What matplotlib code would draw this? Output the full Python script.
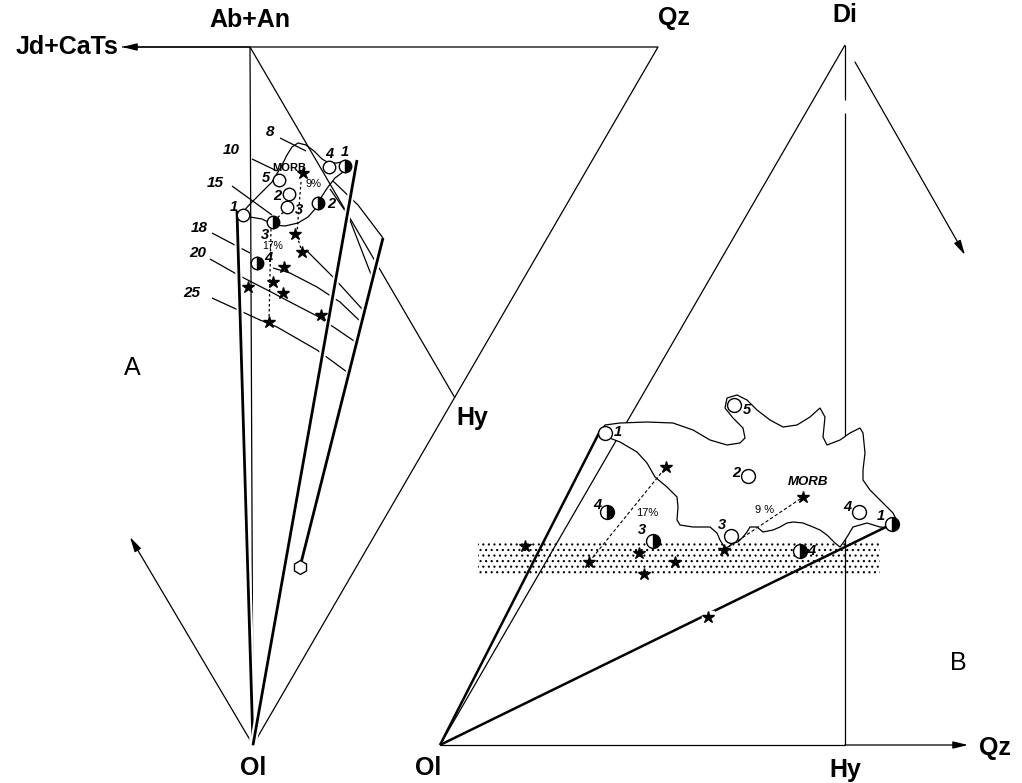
import matplotlib.pyplot as plt
import matplotlib.patheffects as pe
from matplotlib.patches import Polygon, Rectangle

plt.rcParams['font.family'] = ['Liberation Sans', 'DejaVu Sans']
plt.rcParams['hatch.linewidth'] = 0.8

# ---------------- panel A (pixel coordinates of the projection) ----------------
ab_an = (250, 47)
qz_a = (658, 47)
hy_a = (455, 398)
ol_a = (253, 745)
jd_tip = (122, 47)
ol_arrow_a = (130, 537)
hexagon_a = (300, 567)

thick_a = [
    [(253, 745), (237, 212), (243, 215)],
    [(253, 745), (357, 160)],
    [(300, 567), (383, 238)],
]

# isobaric contour lines (kbar) and their labels
contour_names = ['8', '10', '15', '18', '20', '25']
contour_label_x = [274, 240, 224, 208, 206, 200]
contour_label_y = [132, 150, 183, 228, 253, 293]
contour_segments = [
    [[(280, 138), (306, 151)], [(333, 181), (358, 205), (383, 238)]],
    [[(252, 159), (277, 171)], [(330, 189), (348, 215), (372, 277)]],
    [[(232, 186), (272, 215)], [(306, 250), (333, 277), (363, 310)]],
    [[(212, 233), (250, 253)], [(273, 268), (290, 273), (317, 287), (340, 302), (361, 322)]],
    [[(210, 259), (240, 276), (273, 293), (290, 302), (317, 316), (335, 328), (357, 343)]],
    [[(212, 298), (260, 320), (277, 327), (317, 350), (347, 372)]],
]

morb_field_a = [(243, 212), (250, 204), (262, 192), (272, 182), (281, 167), (287, 155),
                (292, 147), (298, 143), (306, 145), (314, 151), (322, 159), (329, 163),
                (337, 163), (345, 161), (350, 166), (343, 172), (335, 178), (328, 187),
                (322, 196), (316, 208), (308, 217), (298, 223), (285, 226), (274, 225),
                (262, 219), (250, 217)]

open_a_x = [243, 279, 289, 287, 329]
open_a_y = [215, 180, 194, 207, 167]
open_a_lab = ['1', '5', '2', '3', '4']
open_a_lx = [234, 266, 277, 299, 329]
open_a_ly = [207, 178, 196, 210, 154]

half_a_x = [273, 257, 345, 318]
half_a_y = [222, 263, 166, 203]
half_a_lab = ['3', '4', '1', '2']
half_a_lx = [265, 268, 345, 331]
half_a_ly = [235, 258, 152, 204]

star_a_x = [303, 295, 302, 284, 273, 283, 248, 269, 321]
star_a_y = [173, 234, 252, 267, 282, 293, 287, 322, 315]

# ---------------- panel B ----------------
di = (845, 45)
ol_b = (440, 745)
hy_b = (845, 745)
qz_tip_b = (968, 745)
di_arrow = [(855, 62), (965, 255)]

morb_field_b = [(605, 425), (620, 423), (647, 422), (673, 423), (693, 430), (710, 440),
                (727, 445), (740, 443), (745, 438), (743, 428), (733, 418), (725, 408),
                (727, 398), (737, 395), (747, 400), (757, 410), (770, 420), (783, 427),
                (797, 425), (810, 417), (820, 408), (825, 417), (823, 437), (827, 445),
                (840, 440), (850, 433), (860, 428), (863, 433), (865, 453), (863, 470),
                (863, 480), (870, 490), (883, 503), (893, 513), (898, 523), (895, 528),
                (890, 528), (880, 527), (867, 523), (853, 527), (850, 532), (847, 537),
                (843, 543), (840, 547), (835, 543), (827, 535), (820, 530), (813, 527),
                (803, 523), (793, 522), (787, 523), (780, 527), (773, 530), (763, 532),
                (757, 527), (750, 527), (747, 532), (743, 537), (738, 542), (733, 543),
                (728, 547), (725, 548), (720, 540), (717, 533), (710, 527), (693, 527),
                (680, 525), (677, 520), (678, 507), (677, 497), (667, 487), (655, 477),
                (647, 463), (637, 452), (620, 442), (607, 437), (600, 432)]

open_b_x = [605, 734, 748, 859, 731]
open_b_y = [433, 405, 476, 512, 536]
open_b_lab = ['1', '5', '2', '4', '3']
open_b_lx = [618, 747, 736, 847, 722]
open_b_ly = [432, 410, 473, 507, 525]

half_b_x = [607, 653, 892, 800]
half_b_y = [512, 541, 524, 551]
half_b_lab = ['4', '3', '1', '4']
half_b_lx = [597, 642, 881, 811]
half_b_ly = [505, 530, 516, 551]

star_b_x = [525, 589, 639, 644, 675, 724, 803, 666, 708]
star_b_y = [546, 562, 553, 574, 562, 550, 497, 467, 617]

band_x = (478, 880)
band_y = (543, 576)

fig = plt.figure(figsize=(10.22, 7.83), dpi=100)
ax = fig.add_axes([0, 0, 1, 1])
ax.set_xlim(0, 1022)
ax.set_ylim(783, 0)
ax.axis('off')

k = 'black'
thin = 0.9
arrow_kw = dict(arrowstyle='-|>,head_length=0.9,head_width=0.22', color=k, lw=thin,
                shrinkA=0, shrinkB=0)


def line(pts, lw=thin, z=3, **kw):
    xs, ys = zip(*pts)
    return ax.plot(xs, ys, color=k, lw=lw, zorder=z, solid_capstyle='butt', **kw)


# ---- panel A frame
line([jd_tip, qz_a, ol_a])
ax.annotate('', xy=jd_tip, xytext=ab_an, arrowprops=arrow_kw, zorder=3)
line([ab_an, ol_a])
line([ab_an, hy_a])
ax.annotate('', xy=ol_arrow_a, xytext=ol_a, arrowprops=arrow_kw, zorder=3)

for segs in contour_segments:
    for s in segs:
        line(s, lw=0.9, z=2)
for name, lx, ly in zip(contour_names, contour_label_x, contour_label_y):
    ax.text(lx, ly, name, ha='right', va='center', fontsize=11, fontweight='bold',
            style='italic', zorder=6)

halo = [pe.Stroke(linewidth=5, foreground='white'), pe.Normal()]
for t in thick_a:
    line(t, lw=2.0, z=4, path_effects=halo)

ax.add_patch(Polygon(morb_field_a, closed=True, fill=False, ec=k, lw=0.9, zorder=4))

# dotted paths in panel A
line([(287, 209), (276, 219)], lw=0.9, z=4, ls=(0, (2, 2)))
line([(271, 229), (269, 322)], lw=0.9, z=4, ls=(0, (2, 2)))
line([(301, 182), (297, 233)], lw=0.9, z=4, ls=(0, (2, 2)))
line([(297, 236), (302, 252)], lw=0.9, z=4, ls=(0, (2, 2)))

ax.plot(*hexagon_a, marker='h', ms=10, mfc='white', mec=k, mew=1.0, zorder=6)
ax.plot(open_a_x, open_a_y, 'o', ms=9, mfc='white', mec=k, mew=1.0, zorder=6, ls='none')
ax.plot(half_a_x, half_a_y, 'o', ms=9, mfc=k, mfcalt='white', fillstyle='right',
        mec=k, mew=1.0, zorder=6, ls='none')
ax.plot(star_a_x, star_a_y, '*', ms=9, color=k, zorder=6, ls='none')

for lab, lx, ly in zip(open_a_lab + half_a_lab, open_a_lx + half_a_lx, open_a_ly + half_a_ly):
    ax.text(lx, ly, lab, ha='center', va='center', fontsize=10.5, fontweight='bold',
            style='italic', zorder=7)
ax.text(289, 168, 'MORB', ha='center', va='center', fontsize=8, fontweight='bold', zorder=7)
ax.text(313, 184, '9%', ha='center', va='center', fontsize=8, zorder=7)
ax.text(273, 246, '17%', ha='center', va='center', fontsize=7.5, zorder=7)

# vertex labels panel A
bold = dict(fontsize=18, fontweight='bold', zorder=7)
ax.text(250, 20, 'Ab+An', ha='center', va='center', **bold)
ax.text(118, 47, 'Jd+CaTs', ha='right', va='center', **bold)
ax.text(674, 18, 'Qz', ha='center', va='center', **bold)
ax.text(472, 418, 'Hy', ha='center', va='center', **bold)
ax.text(253, 768, 'Ol', ha='center', va='center', **bold)
ax.text(132, 368, 'A', ha='center', va='center', fontsize=18, zorder=7)

# ---- panel B frame
line([di, ol_b], z=1)
line([di, (845, 100)], z=1)
line([(845, 113), hy_b], z=1)
line([ol_b, hy_b])
ax.annotate('', xy=qz_tip_b, xytext=hy_b, arrowprops=arrow_kw, zorder=3)
ax.annotate('', xy=di_arrow[1], xytext=di_arrow[0], arrowprops=arrow_kw, zorder=3)

ax.add_patch(Rectangle((band_x[0], band_y[0]), band_x[1] - band_x[0], band_y[1] - band_y[0],
                       fill=False, hatch='...', ec=k, lw=0, zorder=2))

ax.add_patch(Polygon(morb_field_b, closed=True, fc='white', ec=k, lw=0.9, zorder=2.5))

line([ol_b, (half_b_x[2], half_b_y[2])], lw=1.8, z=4)
line([ol_b, (open_b_x[0] - 5, open_b_y[0] - 2)], lw=1.8, z=4)
ax.plot(star_b_x[-1], star_b_y[-1], 's', ms=9, color='white', zorder=5)

line([(star_b_x[1], star_b_y[1]), (star_b_x[7], star_b_y[7])], lw=0.8, z=4, ls=(0, (3, 2)))
line([(star_b_x[5], star_b_y[5]), (star_b_x[6], star_b_y[6])], lw=0.8, z=4, ls=(0, (3, 2)))

ax.plot(open_b_x, open_b_y, 'o', ms=10, mfc='white', mec=k, mew=1.0, zorder=6, ls='none')
ax.plot(half_b_x, half_b_y, 'o', ms=10, mfc=k, mfcalt='white', fillstyle='right',
        mec=k, mew=1.0, zorder=6, ls='none')
ax.plot(star_b_x, star_b_y, '*', ms=9, color=k, zorder=6, ls='none')

for lab, lx, ly in zip(open_b_lab + half_b_lab, open_b_lx + half_b_lx, open_b_ly + half_b_ly):
    ax.text(lx, ly, lab, ha='center', va='center', fontsize=10.5, fontweight='bold',
            style='italic', zorder=7)
ax.text(808, 482, 'MORB', ha='center', va='center', fontsize=9.5, fontweight='bold',
        style='italic', zorder=7)
ax.text(765, 510, '9 %', ha='center', va='center', fontsize=8, zorder=7)
ax.text(647, 513, '17%', ha='center', va='center', fontsize=8, zorder=7)

ax.text(845, 15, 'Di', ha='center', va='center', **bold)
ax.text(428, 768, 'Ol', ha='center', va='center', **bold)
ax.text(845, 770, 'Hy', ha='center', va='center', **bold)
ax.text(995, 748, 'Qz', ha='center', va='center', **bold)
ax.text(958, 663, 'B', ha='center', va='center', fontsize=18, zorder=7)

fig.savefig('out.png', dpi=100)
